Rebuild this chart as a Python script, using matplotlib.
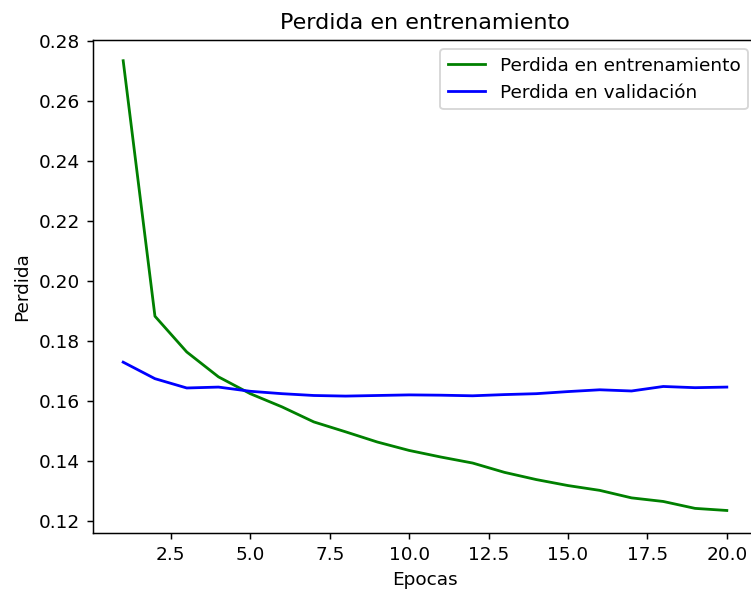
import matplotlib
matplotlib.use("Agg")
import matplotlib.pyplot as plt

epochs = list(range(1, 21))
train_loss = [0.2733, 0.1882, 0.1763, 0.1680, 0.1624, 0.1580, 0.1530, 0.1497, 0.1463, 0.1435,
              0.1413, 0.1393, 0.1362, 0.1338, 0.1318, 0.1302, 0.1277, 0.1265, 0.1242, 0.1235]
val_loss = [0.1729, 0.1674, 0.1643, 0.1646, 0.1632, 0.1624, 0.1618, 0.1616, 0.1618, 0.1620,
            0.1619, 0.1617, 0.1621, 0.1624, 0.1631, 0.1637, 0.1633, 0.1648, 0.1644, 0.1646]

# original was rendered at a higher dpi and cropped on the right
dpi = 133.6
fig = plt.figure(figsize=(751 / dpi, 589 / dpi), dpi=dpi)
ax = fig.add_axes([93 / 751, 1 - 533 / 589, 664 / 751, 493 / 589])
ax.plot(epochs, train_loss, 'g', label='Perdida en entrenamiento')
ax.plot(epochs, val_loss, 'b', label='Perdida en validación')
ax.set_title('Perdida en entrenamiento')
ax.set_xlabel('Epocas')
ax.set_ylabel('Perdida')
ax.set_xlim(0.05, 20.95)
ax.set_ylim(0.116, 0.2802)
ax.legend()
fig.savefig('out.png', dpi=dpi)
